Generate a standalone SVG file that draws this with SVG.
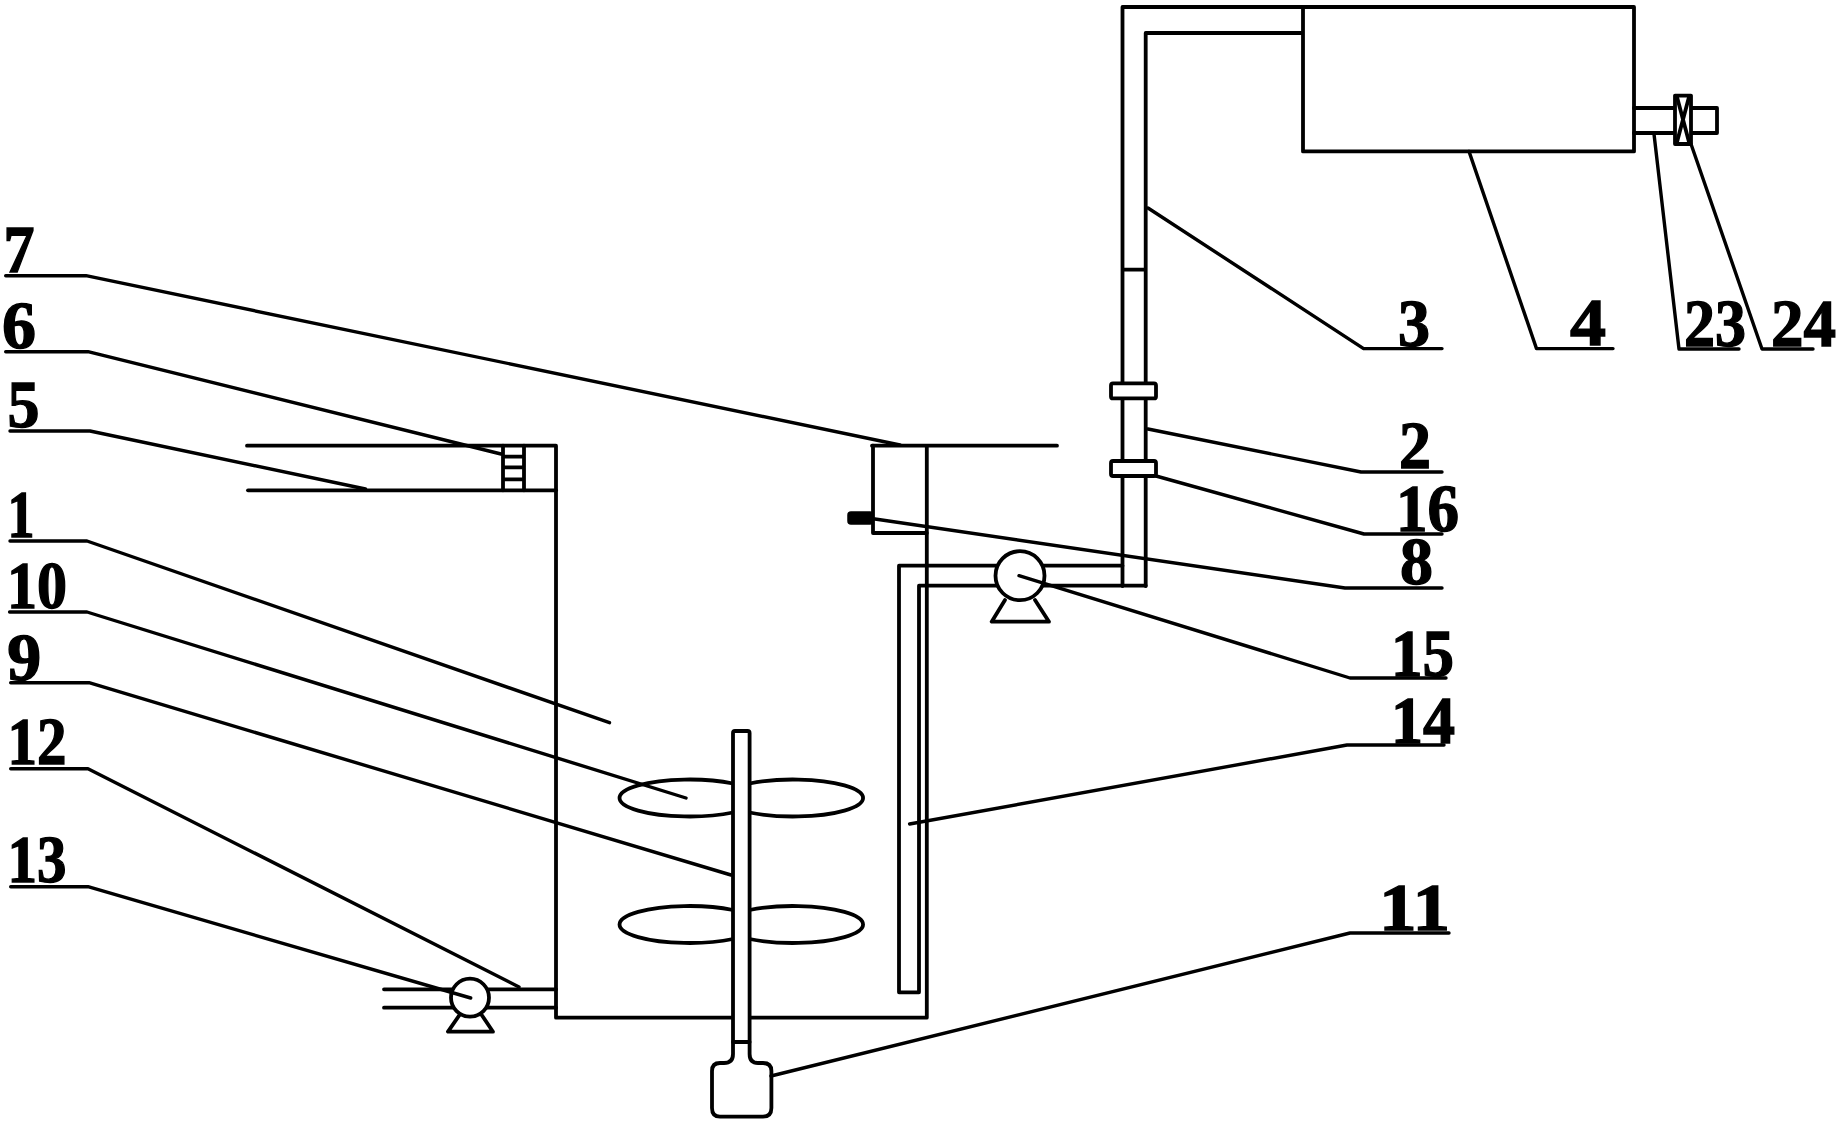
<svg xmlns="http://www.w3.org/2000/svg" width="1838" height="1123" viewBox="0 0 1838 1123">
<style>
.s{fill:none;stroke:#000;stroke-width:3.8;stroke-linejoin:round;stroke-linecap:round}
.w{fill:#fff;stroke:#000;stroke-width:3.8;stroke-linejoin:round}
.l{fill:none;stroke:#000;stroke-width:3.4;stroke-linejoin:round;stroke-linecap:round}
text{font-family:"Liberation Serif",serif;font-weight:bold;font-size:68px;fill:#000;stroke:#000;stroke-width:1.4}
</style>
<rect width="1838" height="1123" fill="#fff"/>
<g id="mixing-tank">
<path class="s" d="M247 445.7H556V1017.7H926.8V445.7M872 445.7H1057"/>
<path class="s" d="M248 490.3H556"/>
</g>
<g id="screen">
<path class="s" d="M503 445.7V490.3M524 445.7V490.3M503 456.7H524M503 467.3H524M503 479.3H524"/>
</g>
<g id="sensor-box">
<path class="s" d="M873 445.7V533H926.8"/>
<rect x="848" y="512" width="25" height="12" rx="3" fill="#000" stroke="#000" stroke-width="1.5"/>
</g>
<g id="impeller-blades">
<path class="s" d="M733 783.5A70 18.5 0 1 0 733 812.5M749.6 783.5A70 18.5 0 1 1 749.6 812.5"/>
<path class="s" d="M733 910A70 18.5 0 1 0 733 939M749.6 910A70 18.5 0 1 1 749.6 939"/>
</g>
<g id="shaft-motor">
<path class="w" d="M733 1042V733Q733 731 735 731H747.6Q749.6 731 749.6 733V1042Z"/>
<path class="w" d="M733 1042V1054Q733 1063 724 1063H720Q712 1063 712 1071V1108Q712 1116.7 720 1116.7H763Q771.4 1116.7 771.4 1108V1071Q771.4 1063 763 1063H758Q749.6 1063 749.6 1054V1042Z"/>
</g>
<g id="return-tube">
<path class="s" d="M899 992.3V565.7H1122.5M919 992.3V585.7H1145.7M899 992.3H919"/>
</g>
<g id="riser-pipe">
<path class="s" d="M1303 7H1122.5V586M1303 33H1145.7V586M1122.5 269.6H1145.7"/>
<rect class="w" x="1111" y="383.4" width="45" height="15" rx="2"/>
<rect class="w" x="1111" y="461" width="45" height="15" rx="2"/>
</g>
<g id="pump-15">
<path class="s" d="M1005 600L991.7 621.7H1049L1035 600"/>
<circle class="w" cx="1020" cy="575.7" r="24.5"/>
</g>
<g id="storage-tank">
<rect class="w" x="1303" y="7" width="331" height="144.4"/>
</g>
<g id="outlet-valve">
<path class="s" d="M1634 108H1717V133H1634"/>
<rect class="w" x="1675" y="95.6" width="16" height="48.4"/>
<path class="s" d="M1677 97L1689 142M1689 97L1677 142"/>
</g>
<g id="discharge-pump-13">
<path class="s" d="M384 989.3H556M384 1007.7H556"/>
<path class="s" d="M459.5 1015L448 1031.7H493L481.7 1015"/>
<circle class="w" cx="470" cy="997.7" r="19"/>
</g>
<g id="connectors">
<path class="l" d="M5.7 275.7H86L900 445"/>
<path class="l" d="M5.7 351.7H88L501 454"/>
<path class="l" d="M10 431H90L365.5 489"/>
<path class="l" d="M10 541H87L609.5 722.7"/>
<path class="l" d="M9.6 612H87L686 798"/>
<path class="l" d="M10.7 682.7H89L731 875"/>
<path class="l" d="M10.7 768.7H88L519 987"/>
<path class="l" d="M10.7 886.7H88L470.7 998"/>
<path class="l" d="M1442 348.6H1363.6L1148 208"/>
<path class="l" d="M1613 348.6H1536.5L1469 151.4"/>
<path class="l" d="M1739 349H1679L1654 134"/>
<path class="l" d="M1813 349H1762L1691 144"/>
<path class="l" d="M1442 472H1361L1148 429"/>
<path class="l" d="M1442 534H1364L1156 476"/>
<path class="l" d="M1442 588H1345L875 519"/>
<path class="l" d="M1446 678H1350L1019 575.7"/>
<path class="l" d="M1444 745H1347L909.6 824"/>
<path class="l" d="M1449 933H1350L771 1076"/>
</g>
<g id="labels">
<text x="3.4" y="272" textLength="31" lengthAdjust="spacingAndGlyphs">7</text>
<text x="2" y="348" textLength="34" lengthAdjust="spacingAndGlyphs">6</text>
<text x="7.6" y="427" textLength="32" lengthAdjust="spacingAndGlyphs">5</text>
<text x="7.6" y="537" textLength="27" lengthAdjust="spacingAndGlyphs">1</text>
<text x="7" y="608" textLength="60" lengthAdjust="spacingAndGlyphs">10</text>
<text x="7.3" y="680" textLength="34" lengthAdjust="spacingAndGlyphs">9</text>
<text x="7.5" y="764" textLength="59" lengthAdjust="spacingAndGlyphs">12</text>
<text x="7.5" y="882" textLength="59" lengthAdjust="spacingAndGlyphs">13</text>
<text x="1398" y="346" textLength="32" lengthAdjust="spacingAndGlyphs">3</text>
<text x="1570" y="345" textLength="36" lengthAdjust="spacingAndGlyphs">4</text>
<text x="1684" y="346" textLength="62" lengthAdjust="spacingAndGlyphs">23</text>
<text x="1771" y="346" textLength="65" lengthAdjust="spacingAndGlyphs">24</text>
<text x="1399" y="468" textLength="32" lengthAdjust="spacingAndGlyphs">2</text>
<text x="1396" y="531" textLength="63" lengthAdjust="spacingAndGlyphs">16</text>
<text x="1400" y="584" textLength="33" lengthAdjust="spacingAndGlyphs">8</text>
<text x="1391" y="676" textLength="63" lengthAdjust="spacingAndGlyphs">15</text>
<text x="1391" y="743" textLength="64" lengthAdjust="spacingAndGlyphs">14</text>
<text x="1379" y="930" textLength="71" lengthAdjust="spacingAndGlyphs">11</text>
</g>
</svg>
